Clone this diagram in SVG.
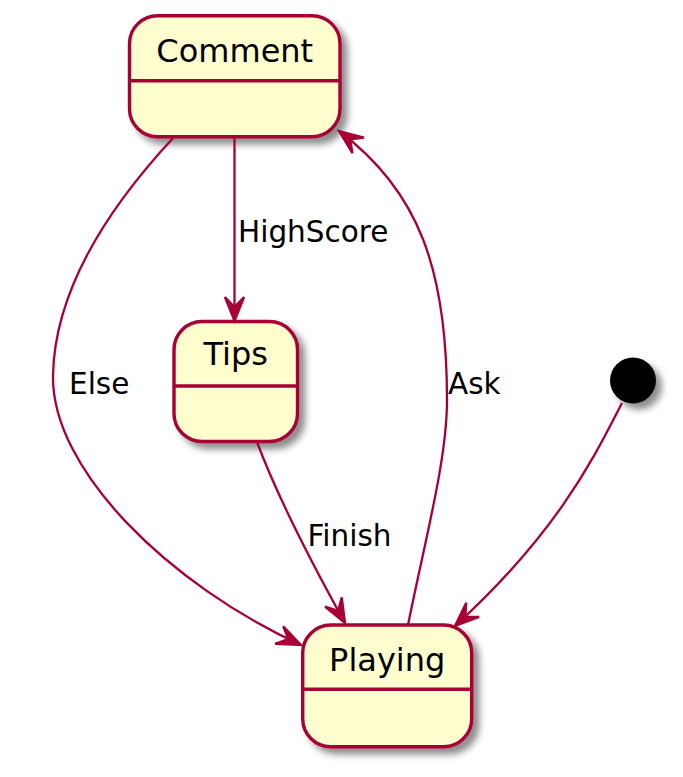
<svg xmlns="http://www.w3.org/2000/svg" width="683" height="777" viewBox="0 0 683 777">
<defs>
<filter id="shadow" x="-20%" y="-20%" width="150%" height="150%">
<feGaussianBlur in="SourceAlpha" stdDeviation="3.5"/>
<feOffset dx="6" dy="6" result="b"/>
<feComponentTransfer><feFuncA type="linear" slope="0.45"/></feComponentTransfer>
<feMerge><feMergeNode/><feMergeNode in="SourceGraphic"/></feMerge>
</filter>
<marker id="arrow" markerUnits="userSpaceOnUse" orient="auto" refX="0" refY="0" markerWidth="40" markerHeight="40" viewBox="-30 -15 40 30" overflow="visible">
<polygon points="0,0 -24,-9.6 -14,0 -24,9.6" fill="#A80036" stroke="#A80036" stroke-width="2.3" stroke-linejoin="miter"/>
</marker>
</defs>
<style>
.state{fill:#FEFECE;stroke:#A80036;stroke-width:3.4;}
.sep{stroke:#A80036;stroke-width:3.4;}
.name{font-family:"DejaVu Sans",sans-serif;font-size:32px;fill:#000;text-anchor:middle;}
.edge{fill:none;stroke:#A80036;stroke-width:2.3;marker-end:url(#arrow);}
.label{font-family:"DejaVu Sans",sans-serif;font-size:29.5px;fill:#000;}
</style>
<rect width="683" height="777" fill="#FFFFFF"/>
<g id="Comment">
<rect class="state" x="129.5" y="15.7" width="210.5" height="121" rx="28" ry="28" filter="url(#shadow)"/>
<line class="sep" x1="129.5" y1="80.7" x2="340" y2="80.7"/>
<text class="name" x="234.75" y="61.7">Comment</text>
</g>
<g id="Tips">
<rect class="state" x="174" y="321.5" width="123.5" height="120" rx="28" ry="28" filter="url(#shadow)"/>
<line class="sep" x1="174" y1="386" x2="297.5" y2="386"/>
<text class="name" x="235.7" y="365">Tips</text>
</g>
<g id="Playing">
<rect class="state" x="302.7" y="625" width="169" height="121.7" rx="28" ry="28" filter="url(#shadow)"/>
<line class="sep" x1="302.7" y1="689.3" x2="471.7" y2="689.3"/>
<text class="name" x="387.2" y="670.7">Playing</text>
</g>
<g id="initial">
<circle cx="633" cy="380.5" r="23" fill="#000000" filter="url(#shadow)"/>
</g>
<g id="connectors">
<path class="edge" d="M234.5,137 L234.5,321"/>
<path class="edge" d="M174,137 C120,195 55,280 53,375 C51,470 170,585 301,645"/>
<path class="edge" d="M257,442 C275,490 310,560 345,623"/>
<path class="edge" d="M408,625 C425,540 447,460 447,400 C447,270 419,191 339,131"/>
<path class="edge" d="M622,403 C595,455 560,530 455,626"/>
<text class="label" x="238" y="241.7">HighScore</text>
<text class="label" x="69" y="394">Else</text>
<text class="label" x="448" y="394">Ask</text>
<text class="label" x="307.5" y="546">Finish</text>
</g>
</svg>
